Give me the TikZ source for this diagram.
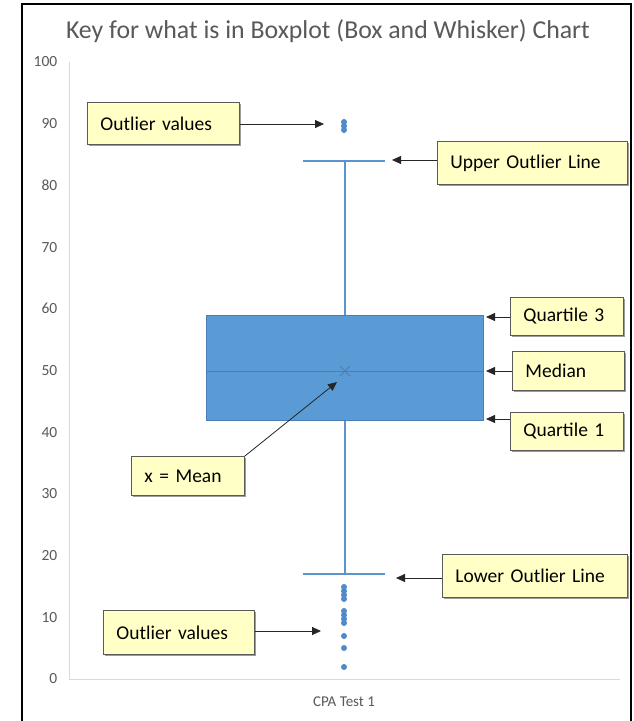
\documentclass[tikz,border=0pt]{standalone}
\usepackage{fontspec}
\setmainfont{Carlito}
\usetikzlibrary{arrows.meta,shadows}
\definecolor{boxblue}{HTML}{5B9BD5}
\definecolor{boxedge}{HTML}{4A7FB5}
\definecolor{whisk}{HTML}{5B93CC}
\definecolor{dotblue}{HTML}{4F8BC9}
\definecolor{axisgray}{HTML}{D9D9D9}
\definecolor{labgray}{HTML}{595959}
\definecolor{calfill}{HTML}{FFFFC6}
\definecolor{caledge}{HTML}{5A5A5A}
\tikzset{
  callout/.style={draw=caledge, line width=0.9pt, fill=calfill, font=\fontsize{19.5}{22}\selectfont,
    align=left, inner xsep=13pt, inner ysep=0pt, anchor=north west,
    drop shadow={shadow xshift=1.6pt, shadow yshift=-1.6pt, fill=black!55, opacity=0.7}},
  pointer/.style={-{Triangle[length=9pt,width=8pt]}, line width=0.8pt, black!85},
  ticklab/.style={font=\fontsize{15.5}{17}\selectfont, text=labgray, anchor=east, inner sep=0pt},
  outdot/.style={fill=dotblue, draw=none},
  whisker/.style={draw=whisk, line width=1.2pt},
}
\begin{document}
\begin{tikzpicture}[x=1pt,y=-1pt]
\useasboundingbox (0,0) rectangle (633,721);
\fill[white] (0,0) rectangle (633,721);
% frame
\draw[black, line width=1.4pt] (22,730) -- (22,4) -- (631,4) -- (631,730);
% title
\node[font=\fontsize{25.8}{28}\selectfont, text=labgray] (title) at (328,31) {Key for what is in Boxplot (Box and Whisker) Chart};
% axes
\draw[axisgray, line width=1pt] (69.5,62) -- (69.5,679) -- (620,679);
\foreach \v in {0,10,...,100} {
  \node[ticklab] (t\v) at (57.5,{679-6.17*\v}) {\v};
}
\node[font=\fontsize{15}{17}\selectfont, text=labgray] (cat) at (344,702) {CPA Test 1};
% whiskers
\draw[whisker] (345,161) -- (345,315);
\draw[whisker] (345,420) -- (345,574);
\draw[whisker] (303,161) -- (385,161);
\draw[whisker] (303,574) -- (385,574);
% box
\node[draw=boxedge, fill=boxblue, line width=0.8pt, minimum width=277pt, minimum height=105pt, inner sep=0pt, anchor=north west] (box) at (206,315) {};
\draw[boxedge, line width=1pt] (box.west |- 0,371) -- (box.east |- 0,371);
\draw[boxedge, line width=0.9pt] (340,366) -- (350,376) (340,376) -- (350,366);
\coordinate (meanpt) at (337,382);
% outliers
\foreach \yy in {122,126,130} { \fill[outdot] (344,\yy) circle (3); }
\foreach \yy in {587,591,595,599,611,615,619,623,636,648,667} { \fill[outdot] (344,\yy) circle (3); }
% callouts
\node[callout, text width=126pt, minimum height=42pt] (out1) at (87,102) {Outlier values};
\node[callout, text width=164pt, minimum height=43pt] (uol) at (437,141) {Upper Outlier Line};
\node[callout, text width=87pt, minimum height=38pt] (q3) at (510,297) {Quartile 3};
\node[callout, text width=86pt, minimum height=39pt] (med) at (512,351) {Median};
\node[callout, text width=87pt, minimum height=38pt] (q1) at (510,412) {Quartile 1};
\node[callout, text width=87pt, minimum height=39pt] (mean) at (131,456) {x = Mean};
\node[callout, text width=125pt, minimum height=44pt] (out2) at (103,610) {Outlier values};
\node[callout, text width=159pt, minimum height=43pt] (lol) at (442,554) {Lower Outlier Line};
% targets
\coordinate (t-out1) at (324,124);
\coordinate (t-uol) at (392,160);
\coordinate (t-q3) at (486,317);
\coordinate (t-med) at (486,371);
\coordinate (t-q1) at (486,419);
\coordinate (t-out2) at (321,631);
\coordinate (t-lol) at (396,578);
% arrows
\draw[pointer] (out1.east |- t-out1) -- (t-out1);
\draw[pointer] (uol.west |- t-uol) -- (t-uol);
\draw[pointer] (q3.west |- t-q3) -- (t-q3);
\draw[pointer] (med.west |- t-med) -- (t-med);
\draw[pointer] (q1.west |- t-q1) -- (t-q1);
\draw[pointer] (out2.east |- t-out2) -- (t-out2);
\draw[pointer] (lol.west |- t-lol) -- (t-lol);
\draw[pointer] (mean.north east) -- (meanpt);
\end{tikzpicture}
\end{document}
